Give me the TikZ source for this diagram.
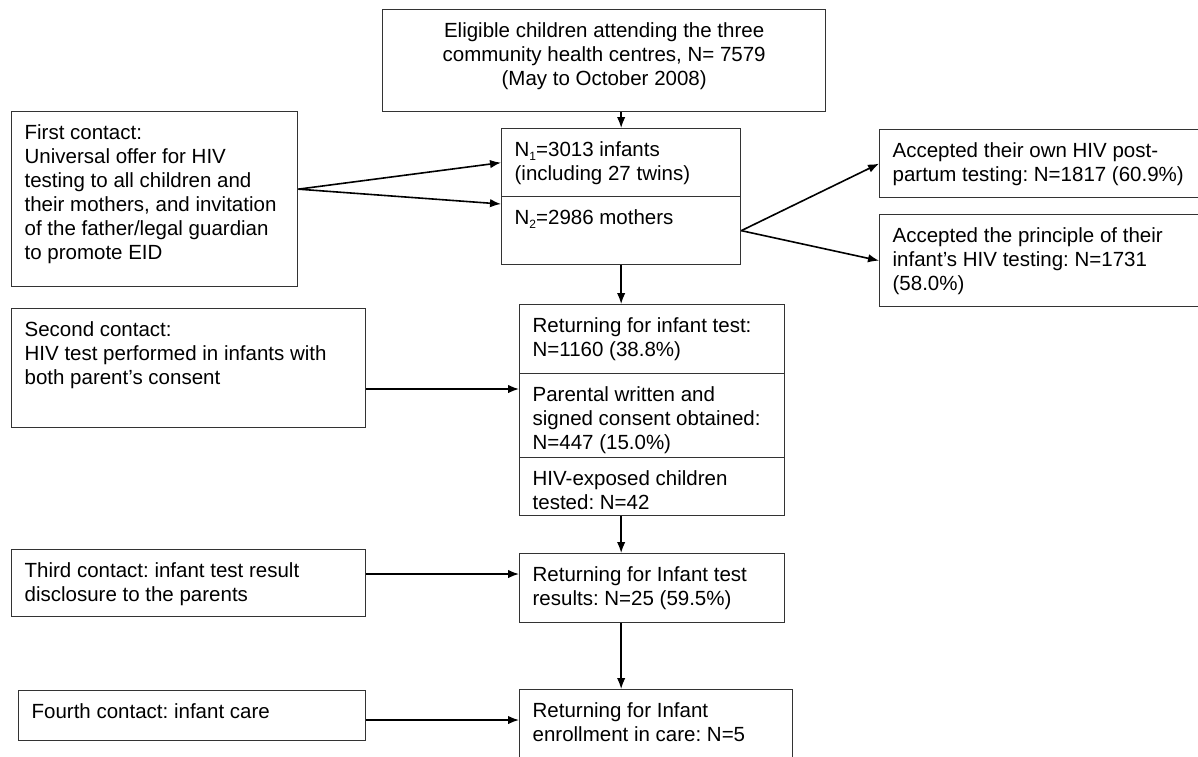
\documentclass[tikz,border=0pt]{standalone}
\usepackage{fontspec}
\setmainfont{Liberation Sans}
\usetikzlibrary{arrows.meta}
\frenchspacing
\newcommand{\boxtext}[3]{\parbox[t][#2][t]{#1}{\raggedright\strut #3}}
\newcommand{\sub}[1]{\raisebox{-3.5pt}{\fontsize{12}{12}\selectfont #1}}

\begin{document}
\begin{tikzpicture}[x=1pt,y=-1pt,
  box/.style={draw=black!80,line width=1.3pt,anchor=north west,inner xsep=13pt,inner ysep=11.5pt,font={\fontsize{20.5}{24}\selectfont}},
  arr/.style={-{Latex[length=11pt,width=8.5pt]},line width=1.6pt}]
  \useasboundingbox (0,0) rectangle (1198,756);
  % centre column
  \node[box] (elig) at (382,9) {\boxtext{417pt}{79pt}{\centering Eligible children attending the three\\community health centres, N= 7579\\(May to October 2008)}};
  \node[box] (infants) at (501,128) {\boxtext{213pt}{45pt}{N\sub{1}=3013 infants\\(including 27 twins)}};
  \node[box] (mothers) at (501,196) {\boxtext{213pt}{45pt}{N\sub{2}=2986 mothers}};
  \node[box] (ret) at (519,304) {\boxtext{239pt}{46pt}{Returning for infant test:\\N=1160 (38.8\%)}};
  \node[box] (consent) at (519,373) {\boxtext{239pt}{61pt}{Parental written and\\signed consent obtained:\\N=447 (15.0\%)}};
  \node[box] (exposed) at (519,457) {\boxtext{239pt}{35pt}{HIV-exposed children\\tested: N=42}};
  \node[box] (results) at (519,553) {\boxtext{239pt}{46pt}{Returning for Infant test\\results: N=25 (59.5\%)}};
  \node[box] (enrol) at (519,689) {\boxtext{247pt}{63pt}{Returning for Infant\\enrollment in care: N=5}};
  % contacts
  \node[box] (first) at (11,111) {\boxtext{260pt}{152pt}{First contact:\\Universal offer for HIV\\testing to all children and\\their mothers, and invitation\\of the father/legal guardian\\to promote EID}};
  \node[box] (second) at (11,308) {\boxtext{328pt}{96pt}{Second contact:\\HIV test performed in infants with\\both parent’s consent}};
  \node[box] (third) at (11,549) {\boxtext{328pt}{44pt}{Third contact: infant test result\\disclosure to the parents}};
  \node[box] (fourth) at (18,690) {\boxtext{321pt}{27pt}{Fourth contact: infant care}};
  % mothers' answers
  \node[box] (own) at (879,129) {\boxtext{314pt}{45pt}{Accepted their own HIV post-\\partum testing: N=1817 (60.9\%)}};
  \node[box] (infacc) at (879,214) {\boxtext{314pt}{69pt}{Accepted the principle of their\\infant’s HIV testing: N=1731\\(58.0\%)}};
  % arrows
  \coordinate (c2) at ([yshift=-16pt]consent.north west);
  \coordinate (c3) at ([yshift=-21pt]results.north west);
  \coordinate (c4) at ([yshift=-31pt]enrol.north west);
  \draw[arr] (elig.south -| infants.north) -- (infants.north);
  \draw[arr] ([yshift=10pt]first.east) -- (infants.west);
  \draw[arr] ([yshift=10pt]first.east) -- ([yshift=-8pt]mothers.north west);
  \draw[arr] (mothers.east) -- (own.west);
  \draw[arr] (mothers.east) -- (infacc.west);
  \draw[arr] (mothers.south) -- (mothers.south |- ret.north);
  \draw[arr] (mothers.south |- exposed.south) -- (mothers.south |- results.north);
  \draw[arr] (mothers.south |- results.south) -- (mothers.south |- enrol.north);
  \draw[arr] (second.east |- c2) -- (c2);
  \draw[arr] (third.east |- c3) -- (c3);
  \draw[arr] (fourth.east |- c4) -- (c4);
\end{tikzpicture}
\end{document}
